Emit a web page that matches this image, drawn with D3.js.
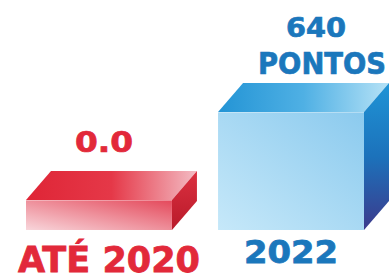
<!DOCTYPE html>
<html>
<head>
<meta charset="utf-8">
<script src="https://cdn.jsdelivr.net/npm/d3@7"></script>
<style>
    html, body { margin: 0; padding: 0; background: #fff; }
    svg { display: block; }
</style>
</head>
<body>
<svg id="chart" width="390" height="274"></svg>
<script>
// data
var categories = ["ATÉ 2020", "2022"];
var values = [0.0, 640];
var valueLabels = [["0.0"], ["640", "PONTOS"]];

var svg = d3.select("#chart");
var base = 230,
    depthX = 25,
    depthY = -29;

var x = d3.scaleBand()
    .domain(categories)
    .range([26, 364])
    .paddingInner(0.24)
    .paddingOuter(0);

// the 0 value still gets a thin slab
var y = d3.scaleLinear()
    .domain([0, 640])
    .range([200, 112]);

var colors = [
    {text: "#e2293a", top: ["#df2536", "#e53848", "#f3bcc4"], front: ["#f8d6db", "#e4485a"], side: ["#dc3040", "#b81a2a"]},
    {text: "#1b77bc", top: ["#2394d5", "#4fb0e4", "#b6e2f6"], front: ["#c6e8f9", "#8bcaee"], side: ["#1f94d6", "#1c72bb", "#3c3a8c"]}
];

var defs = svg.append("defs");
colors.forEach(function (c, i) {
    var gt = defs.append("linearGradient").attr("id", "top" + i)
        .attr("x1", 0).attr("y1", 0).attr("x2", 1).attr("y2", 0);
    c.top.forEach(function (col, k) {
        gt.append("stop").attr("offset", k / (c.top.length - 1)).attr("stop-color", col);
    });
    var gf = defs.append("linearGradient").attr("id", "front" + i)
        .attr("x1", 0).attr("y1", 1).attr("x2", 1).attr("y2", 0);
    c.front.forEach(function (col, k) {
        gf.append("stop").attr("offset", k / (c.front.length - 1)).attr("stop-color", col);
    });
    var gs = defs.append("linearGradient").attr("id", "side" + i)
        .attr("x1", 0).attr("y1", 0).attr("x2", 0).attr("y2", 1);
    c.side.forEach(function (col, k) {
        gs.append("stop").attr("offset", k / (c.side.length - 1)).attr("stop-color", col);
    });
});

var boxes = svg.selectAll(".box")
    .data(categories)
    .enter().append("g")
    .attr("class", "box");

function pts(p) {
    return p.map(function (d) { return d.join(","); }).join(" ");
}

boxes.append("polygon")
    .attr("fill", function (d, i) { return "url(#top" + i + ")"; })
    .attr("points", function (d, i) {
        var x0 = x(d), x1 = x(d) + x.bandwidth(), t = y(values[i]);
        return pts([[x0, t], [x0 + depthX, t + depthY], [x1 + depthX, t + depthY], [x1, t]]);
    });

boxes.append("polygon")
    .attr("fill", function (d, i) { return "url(#side" + i + ")"; })
    .attr("points", function (d, i) {
        var x1 = x(d) + x.bandwidth(), t = y(values[i]);
        return pts([[x1, t], [x1 + depthX, t + depthY], [x1 + depthX, base + depthY], [x1, base]]);
    });

boxes.append("rect")
    .attr("fill", function (d, i) { return "url(#front" + i + ")"; })
    .attr("x", function (d) { return x(d); })
    .attr("y", function (d, i) { return y(values[i]); })
    .attr("width", x.bandwidth())
    .attr("height", function (d, i) { return base - y(values[i]); });

// soft highlight on the front top edge
boxes.append("line")
    .attr("x1", function (d) { return x(d); })
    .attr("x2", function (d) { return x(d) + x.bandwidth(); })
    .attr("y1", function (d, i) { return y(values[i]) + 0.5; })
    .attr("y2", function (d, i) { return y(values[i]) + 0.5; })
    .attr("stroke", "#fff")
    .attr("stroke-opacity", 0.35);

// value labels above the boxes
var labelShift = [[5], [25, 31]];
var lineSize = [[29], [27, 30]];
var lineWidth = [[58], [60, 128]];
boxes.each(function (d, i) {
    var g = d3.select(this);
    var lines = valueLabels[i];
    var topY = y(values[i]) + depthY;
    lines.forEach(function (txt, k) {
        var fromBottom = lines.length - 1 - k;
        g.append("text")
            .attr("x", x(d) + x.bandwidth() / 2 + labelShift[i][k])
            .attr("y", topY - (i === 0 ? 19 : 9) - fromBottom * 37)
            .attr("text-anchor", "middle")
            .attr("fill", colors[i].text)
            .attr("stroke", colors[i].text)
            .attr("stroke-width", 0.7)
            .style("font", "bold " + lineSize[i][k] + "px 'DejaVu Sans'")
            .attr("textLength", lineWidth[i][k])
            .attr("lengthAdjust", "spacingAndGlyphs")
            .text(txt);
    });
});

// category labels under the boxes
var catShift = [10, 0];
var catY = [272, 263];
var catSize = [36, 32];
var catWidth = [182, 94];
boxes.append("text")
    .attr("x", function (d, i) { return x(d) + x.bandwidth() / 2 + catShift[i]; })
    .attr("y", function (d, i) { return catY[i]; })
    .attr("text-anchor", "middle")
    .attr("fill", function (d, i) { return colors[i].text; })
    .attr("stroke", function (d, i) { return colors[i].text; })
    .attr("stroke-width", 0.8)
    .style("font", function (d, i) { return "bold " + catSize[i] + "px 'DejaVu Sans'"; })
    .attr("textLength", function (d, i) { return catWidth[i]; })
    .attr("lengthAdjust", "spacingAndGlyphs")
    .text(function (d) { return d; });
</script>
</body>
</html>
